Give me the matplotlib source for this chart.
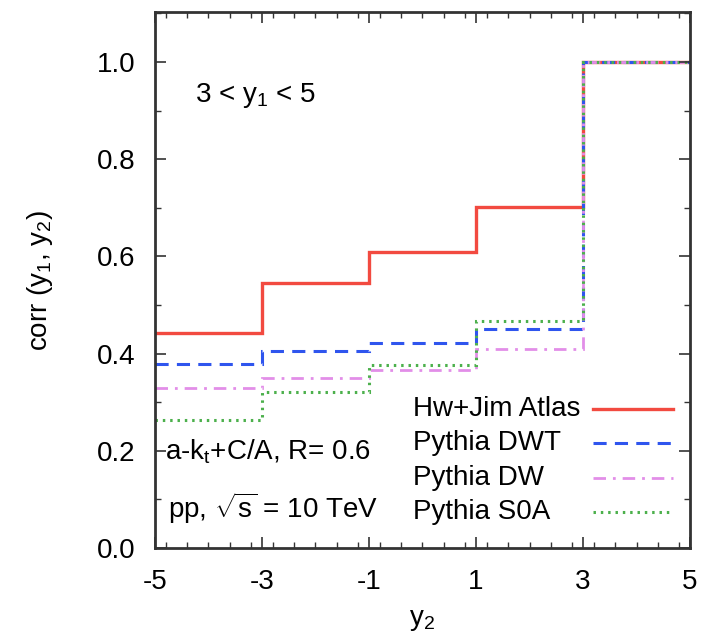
import numpy as np
import matplotlib.pyplot as plt
from matplotlib.ticker import MultipleLocator
from matplotlib.lines import Line2D

plt.rcParams['font.family'] = ['Liberation Sans', 'DejaVu Sans']
plt.rcParams['mathtext.fontset'] = 'custom'
plt.rcParams['mathtext.rm'] = 'Liberation Sans'
plt.rcParams['mathtext.it'] = 'Liberation Sans'
plt.rcParams['axes.unicode_minus'] = False

# bin edges in y2 and correlation per bin
bordes = [-5, -3, -1, 1, 3, 5]
hw_jim_atlas = [0.442, 0.545, 0.609, 0.702, 1.0]
pythia_dwt = [0.378, 0.405, 0.422, 0.450, 1.0]
pythia_dw = [0.329, 0.350, 0.366, 0.409, 1.0]
pythia_s0a = [0.263, 0.321, 0.376, 0.467, 1.0]

nombres = ['Hw+Jim Atlas', 'Pythia DWT', 'Pythia DW', 'Pythia S0A']
colores = ['#f24a40', '#2f55ee', '#e28ee8', '#4cb04c']
estilos = ['-', (0, (4.3, 2.7)), (0, (4.5, 2.5, 1, 2.5)), (0, (0.8, 1.6))]
grosores = [2.4, 2.2, 2.0, 2.2]
series = [hw_jim_atlas, pythia_dwt, pythia_dw, pythia_s0a]

W, H = 703, 637
fig = plt.figure(figsize=(W / 100, H / 100), dpi=100)
ax = fig.add_axes([155 / W, 1 - 548 / H, 535 / W, 536 / H])

for vals, c, ls, lw in zip(series, colores, estilos, grosores):
    ax.stairs(vals, bordes, baseline=None, color=c, lw=lw, ls=ls)

ax.set_xlim(-5, 5)
ax.set_ylim(0, 1.103)
ax.set_xticks([-5, -3, -1, 1, 3, 5])
ax.set_yticks([0.0, 0.2, 0.4, 0.6, 0.8, 1.0])
ax.xaxis.set_minor_locator(MultipleLocator(0.4))
ax.yaxis.set_minor_locator(MultipleLocator(0.1))
ax.tick_params(which='both', direction='in', top=True, right=True, labelsize=20, color='#333333')
ax.tick_params(which='major', length=8, width=1.2)
ax.tick_params(which='minor', length=4, width=1.0)
ax.tick_params(axis='x', pad=15)
ax.tick_params(axis='y', pad=14)
for s in ax.spines.values():
    s.set_linewidth(2)
    s.set_color('#333333')

ax.set_xlabel('y$_2$', fontsize=20, labelpad=9)
ax.set_ylabel('corr (y$_1$, y$_2$)', fontsize=20, labelpad=30)

def px(x, y):
    return x / W, 1 - y / H

fig.text(*px(195, 95), '3 < y$_1$ < 5', fontsize=20, va='center')
fig.text(*px(165, 452), 'a-k$_t$+C/A, R= 0.6', fontsize=20, va='center')
fig.text(*px(168, 508), r'pp, $\sqrt{\rm s}$ = 10 TeV', fontsize=20, va='center')

# legend drawn by hand: text left, sample line right
filas = [409, 443, 478, 512]
for nombre, c, ls, lw, yf in zip(nombres, colores, estilos, grosores, filas):
    fig.text(*px(413, yf), nombre, fontsize=20, va='center')
    x0, y0 = px(593, yf)
    x1, _ = px(673, yf)
    fig.add_artist(Line2D([x0, x1], [y0, y0], transform=fig.transFigure,
                          color=c, lw=lw, ls=ls))

fig.savefig('out.png', dpi=100)
